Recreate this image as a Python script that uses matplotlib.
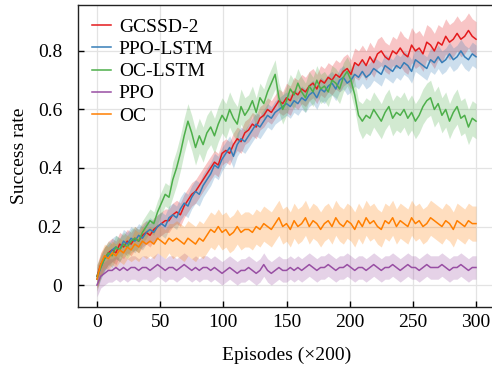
import numpy as np
import matplotlib
matplotlib.use("Agg")
import matplotlib.pyplot as plt

plt.rcParams['font.family'] = ['Liberation Serif', 'DejaVu Serif']

# episodes sampled every 3 (x200)
episodes = np.arange(0, 301, 3)

labels = ['GCSSD-2', 'PPO-LSTM', 'OC-LSTM', 'PPO', 'OC']
colors = ['#e41a1c', '#377eb8', '#4daf4a', '#984ea3', '#ff7f00']

# mean success rate, in percent
gcssd = [3, 7, 9, 11, 12, 11, 14, 13, 15, 14,
         16, 15, 17, 18, 17, 19, 20, 21, 22, 22,
         24, 25, 24, 27, 29, 31, 32, 34, 36, 38,
         40, 42, 41, 45, 46, 45, 48, 50, 49, 52,
         53, 55, 54, 57, 58, 60, 59, 61, 63, 62,
         64, 63, 66, 65, 67, 66, 68, 69, 67, 70,
         69, 71, 70, 72, 71, 73, 74, 72, 76, 75,
         77, 75, 78, 76, 79, 80, 78, 77, 80, 79,
         81, 79, 78, 82, 80, 81, 79, 83, 82, 80,
         83, 82, 85, 83, 84, 86, 84, 85, 87, 85,
         84]
ppo_lstm = [2, 6, 9, 10, 12, 13, 12, 15, 14, 16,
            15, 17, 16, 18, 19, 18, 20, 21, 20, 23,
            24, 23, 26, 28, 27, 30, 32, 31, 34, 36,
            38, 41, 40, 43, 45, 47, 44, 48, 50, 49,
            51, 53, 55, 54, 56, 58, 57, 59, 60, 61,
            62, 61, 63, 62, 64, 63, 65, 66, 64, 67,
            66, 68, 69, 67, 70, 71, 69, 70, 72, 71,
            73, 71, 72, 74, 73, 72, 75, 74, 73, 75,
            74, 76, 75, 73, 77, 76, 75, 74, 77, 76,
            78, 76, 77, 79, 77, 78, 80, 78, 77, 79,
            78]
oc_lstm = [3, 6, 9, 11, 10, 13, 12, 14, 13, 15,
           16, 15, 18, 20, 22, 21, 25, 28, 31, 30,
           36, 40, 45, 51, 56, 52, 47, 51, 48, 52,
           54, 51, 55, 58, 56, 60, 57, 55, 61, 58,
           60, 63, 59, 64, 62, 66, 69, 72, 64, 60,
           63, 67, 65, 69, 66, 64, 68, 66, 70, 67,
           68, 66, 70, 69, 67, 71, 73, 70, 65, 58,
           56, 58, 57, 60, 58, 56, 59, 61, 57, 59,
           58, 60, 57, 59, 56, 58, 61, 63, 64, 60,
           62, 58, 60, 56, 59, 61, 57, 58, 54, 57,
           56]
ppo = [0, 3, 4, 5, 5, 6, 5, 6, 5, 6,
       6, 5, 6, 6, 5, 6, 7, 6, 5, 6,
       6, 5, 6, 7, 6, 5, 6, 5, 6, 6,
       5, 6, 5, 4, 5, 6, 5, 4, 5, 5,
       6, 5, 4, 5, 7, 5, 4, 5, 6, 5,
       5, 6, 5, 6, 5, 6, 7, 6, 5, 6,
       6, 7, 6, 5, 6, 6, 7, 6, 5, 6,
       6, 5, 6, 7, 6, 5, 6, 6, 7, 6,
       5, 6, 7, 6, 6, 5, 6, 7, 6, 6,
       6, 7, 6, 5, 6, 6, 7, 6, 5, 6,
       6]
oc = [2, 7, 10, 9, 11, 10, 12, 11, 13, 12,
      14, 13, 15, 14, 15, 14, 16, 15, 14, 16,
      15, 16, 15, 14, 16, 15, 14, 16, 15, 17,
      19, 18, 20, 18, 19, 17, 18, 20, 18, 19,
      19, 18, 20, 19, 21, 20, 19, 21, 23, 20,
      21, 19, 22, 20, 21, 23, 20, 22, 21, 19,
      21, 22, 20, 23, 21, 20, 22, 21, 19, 22,
      20, 23, 21, 22, 20, 19, 22, 21, 23, 20,
      22, 21, 20, 23, 21, 22, 20, 21, 23, 22,
      21, 20, 22, 21, 19, 22, 21, 20, 22, 21,
      21]

# half width of shaded band, percent, one value per 30 episodes
gcssd_band = [4, 4, 4, 4, 4, 5, 5, 5, 6, 6, 6]
ppo_lstm_band = [4, 4, 4, 4, 4, 4, 4, 4, 4, 4, 4]
oc_lstm_band = [4, 4, 6, 6, 5, 5, 5, 6, 6, 6, 6]
ppo_band = [4, 4, 4, 4, 4, 4, 4, 4, 4, 4, 4]
oc_band = [4, 5, 6, 6, 6, 6, 6, 6, 6, 6, 6]

series = [gcssd, ppo_lstm, oc_lstm, ppo, oc]
bands = [gcssd_band, ppo_lstm_band, oc_lstm_band, ppo_band, oc_band]

fig = plt.figure(figsize=(4.92, 3.67), dpi=100)
ax = fig.add_axes([78 / 492, 60 / 367, 417 / 492, 302 / 367])

for vals, band, color, label in zip(series, bands, colors, labels):
    m = np.array(vals) / 100
    b = np.repeat(np.array(band) / 100, 10)[:len(m)]
    ax.fill_between(episodes, m - b, m + b, color=color, alpha=0.25, lw=0)
    ax.plot(episodes, m, color=color, lw=1.1, label=label)

ax.set_xlim(-15, 315)
ax.set_ylim(-0.075, 0.957)
ax.set_xticks([0, 50, 100, 150, 200, 250, 300])
ax.set_yticks([0, 0.2, 0.4, 0.6, 0.8])
ax.set_yticklabels(['0', '0.2', '0.4', '0.6', '0.8'])
ax.tick_params(direction='in', length=4, width=1, labelsize=14)
ax.tick_params(axis='y', pad=11.5)
ax.tick_params(axis='x', pad=5)
ax.grid(True, color='#e3e3e3', lw=0.9)
ax.set_axisbelow(True)
for s in ax.spines.values():
    s.set_linewidth(1.0)
    s.set_color('#222222')

ax.set_xlabel('Episodes (×200)', fontsize=14, labelpad=11)
ax.set_ylabel('Success rate', fontsize=14, labelpad=7)

ax.legend(loc='upper left', frameon=False, fontsize=14, handlelength=1.0,
          handletextpad=0.4, labelspacing=0.23, borderaxespad=0.3)

fig.savefig('out.png', dpi=100)
